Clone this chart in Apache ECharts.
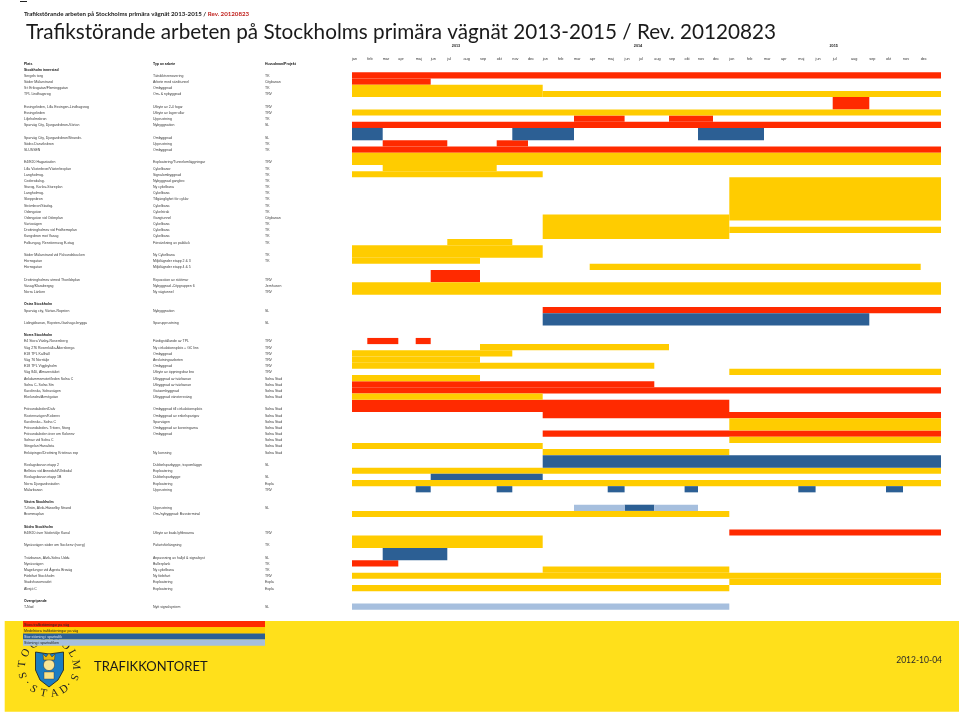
<!DOCTYPE html>
<html><head><meta charset="utf-8">
<style>html,body{margin:0;padding:0;background:#fff}#c{width:959px;height:713px}</style>
<script src="https://cdn.jsdelivr.net/npm/echarts@6/dist/echarts.min.js"></script>
</head><body><div id="c"></div>
<script>
const places = ["Plats","Stockholm innerstad","Sergels torg","Söder Mälarstrand","S:t Eriksgatan/Fleminggatan","TPL Lindhagsrog","","Essingeleden, Lilla Essingen-Lindhagsrog","Essingeleden","Liljeholmsbron","Spårväg City, Djurgårdsbron-Värtan","","Spårväg City, Djurgårdsbron/Strandv.","Södra Danviksbron","SLUSSEN","","E4/E20 Hagastaden","Lilla Västerbron/Västerbroplan","Långholmsg.","Cedersdalsg.","Sturog, Karlav-Stureplan","Långholmsg.","Skeppsbron","Strömbron/Stadsg.","Odengatan","Odengatan vid Odenplan","Vårtavägen","Drottningholmsv vid Fridhemsplan","Kungsbron mot Vasag","Folkungag, Renstiernasg E-stag","","Söder Mälarstrand vid Pålsundsbacken","Hornsgatan","Hornsgatan","","Drottningholmsv utmed Thorildsplan","Vasag/Klarabergsg","Norra Länken","","Östra Stockholm","Spårväg city, Värtan-Ropsten","","Lidingöbanan, Ropsten-Gåshaga brygga","","Norra Stockholm","E4 Stora Väsby-Rosersberg","Väg 276 Rosenkälla-Åkersberga","E18 TPL Kallhäll","Väg 76 Norrtälje","E18 TPL Viggbyholm","Väg 840, Almarestäket","Ankdammsmotet/leden Solna C","Solna C- Solna Stn","Karolinska, Solnavägen","Ekelundsv/Armégatan","","Frösundaleden/Dalv","Råstensvägen/Kolonnv","Karolinska - Solna C","Frösundaleden- Tritonv, Storg","Frösundaleden över om Kolonnv","Solnav vid Solna C","Stingelan Hanalista","Enköpingsv/Drottning Kristinas esp","","Roslagsbanan etapp 2","Bellstav vid Annedahl/Ulriksdal","Roslagsbanan etapp 1B","Norra Djurgårdsstaden","Mälarbanan","","Västra Stockholm","T-Grön, Alvik-Hässelby Strand","Brommaplan","","Södra Stockholm","E4/E20 över Södertälje Kanal","","Nynäsvägen söder om Sockenv (norrg)","","Tvärbanan, Alvik-Solna Uddv.","Nynäsvägen","Magelungsv vid Ågesta Broväg","Förbifart Stockholm","Stadshusområdet","Älvsjö C","","Övergripande","T-Nod"];
const works = ["Typ av arbete","","Tätskiktsrenovering","Arbete med sänktunnel","Ombyggnad","Om- & nybyggnad","","Utbyte av 2-4 fogar","Utbyte av lagerrullar","Upprustning","Nybyggnation","","Ombyggnad","Upprustning","Ombyggnad","","Exploatering/Tunnelomläggningar","Cykelbanor","Signalombyggnad","Nybyggnad gångbro","Ny cykelbana","Cykelbana","Tillgänglighet för cyklar","Cykelbana","Cykelstråk","Gångtunnel","Cykelbana","Cykelbana","Cykelbana","Försänkning av påldäck","","Ny Cykelbana","Miljölägnder etapp 2 & 3","Miljölägnder etapp 4 & 5","","Reparation av stättmur","Nybyggnad -Citygruppen 6","Ny vägtunnel","","","Nybyggnation","","Spårupprustning","","","Färdigställande av TPL","Ny cirkulationsplats + GC lins","Ombyggnad","Anslutningsarbeten","Ombyggnad","Utbyte av öppningsbar bro","Utbyggnad av tvärbanan","Utbyggnad av tvärbanan","Gatuombyggnad","Utbyggnad vänstersväng","","Ombyggnad till cirkulationsplats","Ombyggnad av enkelspårigav","Spårvägen","Ombyggnad av korsningarna","Ombyggnad","","","Ny korsning","","Dubbelspårbygge, tråpomläggn","Exploatering","Dubbelspårbygge","Exploatering","Upprustning","","","Upprustning","Om-/nybyggnad: Bussterminal","","","Utbyte av båda lyftbroarna","","Påfartsförlängning","","Anpassning av hållpl & signalsyst","Bullerplank","Ny cykelbana","Ny förbifart","Exploatering","Exploatering","","","Nytt signalsystem"];
const owners = ["Huvudman/Projekt","","TK","Citybanan","TK","TRV","","TRV","TRV","TK","SL","","SL","TK","TK","","TRV","TK","TK","TK","TK","TK","TK","TK","TK","Citybanan","TK","TK","TK","TK","","TK","TK","","","TRV","Jernhusen","TRV","","","SL","","SL","","","TRV","TRV","TRV","TRV","TRV","TRV","Solna Stad","Solna Stad","Solna Stad","Solna Stad","","Solna Stad","Solna Stad","Solna Stad","Solna Stad","Solna Stad","Solna Stad","Solna Stad","Solna Stad","","SL","","SL","Expla","TRV","","","SL","","","","TRV","","TK","","SL","TK","TK","TRV","Expla","Expla","","","SL"];
const headerRows = ["Plats","Typ av arbete","Huvudman/Projekt","Stockholm innerstad","Östra Stockholm","Norra Stockholm","Västra Stockholm","Södra Stockholm","Övergripande"];
const months = ["jan","feb","mar","apr","maj","jun","jul","aug","sep","okt","nov","dec","jan","feb","mar","apr","maj","jun","jul","aug","sep","okt","nov","dec","jan","feb","mar","apr","maj","jun","jul","aug","sep","okt","nov","dec"];
const years = ["2013","2014","2015"];
const yearAxisValues = [104,286,481.7];
// spreadsheet column width of every month
const monthWidths = [15.3,15.4,15.6,17.4,15,16.6,16.2,16.5,16.7,15.6,15.7,14.7,15.3,16,15.7,18,16.9,14.4,15.3,14.7,15.6,13.4,15,16.3,17.7,17,17,17.3,17.3,17.1,18.3,18.3,16.7,17,17.7,20.3];
// [firstRow, lastRow, startMonth, endMonth)
const storaVag = [[2,2,0,36],[3,3,0,5],[6,7,30,32],[9,9,14,17],[9,9,20,23],[10,10,0,36],[13,13,2,6],[13,13,9,11],[14,14,0,36],[34,35,5,8],[40,40,12,36],[45,45,1,3],[45,45,4,5],[52,52,0,19],[53,53,0,36],[55,56,0,24],[57,57,12,36],[60,60,12,36],[76,76,24,36],[81,81,0,3]];
const medelVag = [[4,5,0,12],[5,5,12,36],[8,8,0,36],[15,16,0,36],[17,17,2,9],[18,18,0,12],[19,25,24,36],[25,28,12,24],[27,27,24,36],[29,29,6,10],[30,31,0,12],[32,32,0,8],[33,33,15,35],[36,37,0,36],[46,46,8,20],[47,47,0,10],[48,48,0,8],[49,49,0,19],[50,50,24,36],[51,51,0,8],[54,54,0,12],[58,59,24,36],[61,61,24,36],[62,62,0,12],[63,63,12,24],[66,66,0,36],[68,68,0,36],[73,73,0,24],[77,78,0,12],[82,82,12,24],[83,83,0,36],[84,84,24,36],[85,85,0,24]];
const storSpar = [[11,12,0,2],[11,12,10,14],[11,12,22,26],[41,42,12,32],[64,65,12,36],[67,67,5,12],[69,69,4,5],[69,69,9,10],[69,69,16,17],[69,69,21,22],[69,69,28,29],[69,69,33,34],[72,72,17,19],[79,80,2,6]];
const sparStorning = [[72,72,14,17],[72,72,19,22],[88,88,0,24]];
const legendNames = ["Stora trafikstörningar på väg","Medelstora trafikstörningar på väg","Stor störning i spårtrafik","Störning i spårtrafiken"];
const colors = ["#ff2a00","#ffcc00","#2c5f94","#a6bfde"];

const FONT = '"Liberation Sans"';
const LABEL = 3.5;
const edges = [0];
monthWidths.forEach(w => edges.push(+(edges[edges.length-1] + w).toFixed(2)));
const total = edges[edges.length-1];

function renderBar(params, api) {
  const c1 = api.coord([edges[api.value(2)], api.value(0)]);
  const c2 = api.coord([edges[api.value(3)], api.value(1)]);
  const h = api.size([0,1])[1];
  return {type:'rect', shape:{x:c1[0], y:c1[1]-h/2, width:c2[0]-c1[0], height:c2[1]-c1[1]+h}, style:{fill:api.visual('color')}};
}
function barSeries(i, data) {
  return {type:'custom', name:legendNames[i], renderItem:renderBar, data:data, clip:false,
    xAxisIndex:0, yAxisIndex:0, encode:{x:[2,3], y:[0,1]}, itemStyle:{color:colors[i]}, silent:true, animation:false};
}
function rowAxis(data, margin) {
  return {type:'category', inverse:true, data:data.map((d,i)=>i+':'+d), position:'left',
    axisLine:{show:false}, axisTick:{show:false}, splitLine:{show:false},
    axisLabel:{show:true, interval:0, margin:margin, align:'left', color:'#3a3a3a', fontFamily:FONT, fontSize:LABEL, hideOverlap:false, lineHeight:5, padding:[1,0,0,0],
      formatter:v=>{const t=v.slice(v.indexOf(':')+1); return headerRows.includes(t)?'{b|'+t+'}':t;},
      rich:{b:{fontWeight:'bold',fontSize:LABEL,fontFamily:FONT,color:'#111'}}}};
}
// seal letters
const seal = [];
const top10 = "STOCKHOLMS".split(""); const topAng=[252,276,301,325,350,14,38,60,85,112];
top10.forEach((l,i)=>seal.push([l,topAng[i],topAng[i]]));
[["·",131,-49],["D",146,-34],["A",168,-12],["T",192,12],["S",215,35],["·",234,54]].forEach(a=>seal.push(a));
const sealEls = seal.map(a=>{
  const r=a[1]*Math.PI/180, cx=49, cy=667, R=27;
  return {type:'text', z:-5, x:cx+R*Math.sin(r), y:cy-R*Math.cos(r), rotation:-a[2]*Math.PI/180,
    style:{text:a[0], font:'11px "Liberation Serif"', fill:'#222', align:'center', verticalAlign:'middle'}};
});

const chart = echarts.init(document.getElementById('c'), null, {renderer:'canvas'});
chart.setOption({
  animation:false, backgroundColor:'#fff',
  title:[
    {text:'Trafikstörande arbeten på Stockholms primära vägnät 2013-2015 / {r|Rev. 20120823}', left:19, top:6,
     textStyle:{fontFamily:'Lato', fontSize:6.15, fontWeight:'bold', color:'#222', rich:{r:{fontFamily:'Lato',fontSize:6.15,fontWeight:'bold',color:'#c0201c'}}}},
    {text:'Trafikstörande arbeten på Stockholms primära vägnät 2013-2015 / Rev. 20120823', left:21, top:17,
     textStyle:{fontFamily:'Lato', fontSize:20.7, fontWeight:'normal', color:'#1a1a1a'}}
  ],
  legend:{show:true, data:legendNames, left:23, top:621, orient:'vertical', icon:'rect', itemWidth:242, itemHeight:6.2, itemGap:0, padding:0,
    selectedMode:false, formatter:()=>' ', textStyle:{fontSize:4}, z:4},
  grid:{left:352, top:60, width:589, height:549.7, containLabel:false},
  xAxis:[
    {type:'value', position:'top', min:0, max:total, axisLine:{show:false}, axisTick:{show:false}, splitLine:{show:false},
     axisLabel:{show:true, customValues:edges.slice(0,36), margin:-1, align:'left', color:'#333', fontFamily:FONT, fontSize:3.8,
       formatter:(v)=>months[edges.indexOf(v)]}},
    {type:'value', position:'top', offset:13, min:0, max:total, axisLine:{show:false}, axisTick:{show:false}, splitLine:{show:false},
     axisLabel:{show:true, customValues:yearAxisValues, margin:-1, color:'#222', fontFamily:FONT, fontSize:3.8, fontWeight:'bold',
       formatter:(v)=>years[yearAxisValues.indexOf(v)]}}
  ],
  yAxis:[rowAxis(places,328), rowAxis(works,199), rowAxis(owners,87)],
  series:[barSeries(0,storaVag), barSeries(1,medelVag), barSeries(2,storSpar), barSeries(3,sparStorning)],
  graphic:{elements:[
    {type:'rect', z:-10, shape:{x:20,y:1,width:7,height:1}, style:{fill:'#222'}},
    {type:'rect', z:-10, shape:{x:4.7,y:621,width:955,height:90.7}, style:{fill:'#ffe01b'}},
    ...sealEls,
    {type:'polygon', z:-4, shape:{points:[[35.5,652],[49,654],[63.5,652],[63.5,670],[58,680],[49,687],[40,680],[35.5,670]]}, style:{fill:'#1b7dc2', stroke:'#1a1a1a', lineWidth:0.8}},
    {type:'polygon', z:-3, shape:{points:[[44,672],[54,672],[54,679],[44,679]]}, style:{fill:'#f6e28a', stroke:'#333', lineWidth:0.4}},
    {type:'circle', z:-3, shape:{cx:49,cy:665,r:5.6}, style:{fill:'#f7e596', stroke:'#333', lineWidth:0.5}},
    {type:'polygon', z:-3, shape:{points:[[43.5,660],[43,654],[46,657],[49,653],[52,657],[55,654],[54.5,660]]}, style:{fill:'#e8b90f', stroke:'#333', lineWidth:0.5}},
    {type:'text', z:10, x:94, y:667, style:{text:'TRAFIKKONTORET', font:'13px Lato', fill:'#1a1a1a', verticalAlign:'middle'}},
    {type:'text', z:10, x:942, y:660, style:{text:'2012-10-04', font:'8.5px Lato', fill:'#2a2a2a', align:'right', verticalAlign:'middle'}},
    ...legendNames.map((t,i)=>({type:'text', z:10, x:24, y:624.7+i*6.2, style:{text:t, font:'3.6px '+FONT, fill:i===2?'#d8e2ee':'#222', verticalAlign:'middle'}}))
  ]}
});
</script></body></html>
